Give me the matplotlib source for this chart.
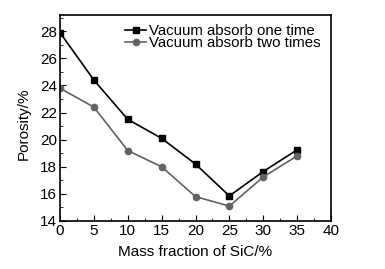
import matplotlib.pyplot as plt
from matplotlib.ticker import MultipleLocator

# data
mass_fraction = [0, 5, 10, 15, 20, 25, 30, 35]
porosity_one = [27.9, 24.4, 21.5, 20.1, 18.2, 15.85, 17.65, 19.25]
porosity_two = [23.8, 22.4, 19.2, 18.0, 15.8, 15.1, 17.25, 18.8]

plt.rcParams['font.family'] = ['Liberation Sans', 'DejaVu Sans']

fig = plt.figure(figsize=(3.85, 2.69), dpi=100)
ax = fig.add_axes([60 / 385, 48 / 269, 271 / 385, 206 / 269])

ax.plot(mass_fraction, porosity_one, color='black', marker='s', markersize=4.5,
        linewidth=1.2, label='Vacuum absorb one time')
ax.plot(mass_fraction, porosity_two, color='#626262', marker='o', markersize=4.5,
        linewidth=1.2, label='Vacuum absorb two times')

ax.set_xlim(0, 40)
ax.set_ylim(14, 29.2)
ax.xaxis.set_major_locator(MultipleLocator(5))
ax.xaxis.set_minor_locator(MultipleLocator(2.5))
ax.yaxis.set_major_locator(MultipleLocator(2))
ax.yaxis.set_minor_locator(MultipleLocator(1))
ax.tick_params(which='both', direction='in', labelsize=11, pad=2)
ax.tick_params(which='major', length=4)
ax.tick_params(which='minor', length=2.5)
for s in ax.spines.values():
    s.set_linewidth(1.2)

ax.set_xlabel('Mass fraction of SiC/%', fontsize=11, labelpad=5)
ax.set_ylabel('Porosity/%', fontsize=11)
ax.yaxis.set_label_coords(-0.107, 0.47)

ax.legend(loc='upper right', frameon=False, fontsize=10.8, handlelength=1.4,
          handletextpad=0.2, labelspacing=-0.12, borderaxespad=0.0,
          bbox_to_anchor=(0.985, 0.985))

fig.savefig('out.png', dpi=100)
